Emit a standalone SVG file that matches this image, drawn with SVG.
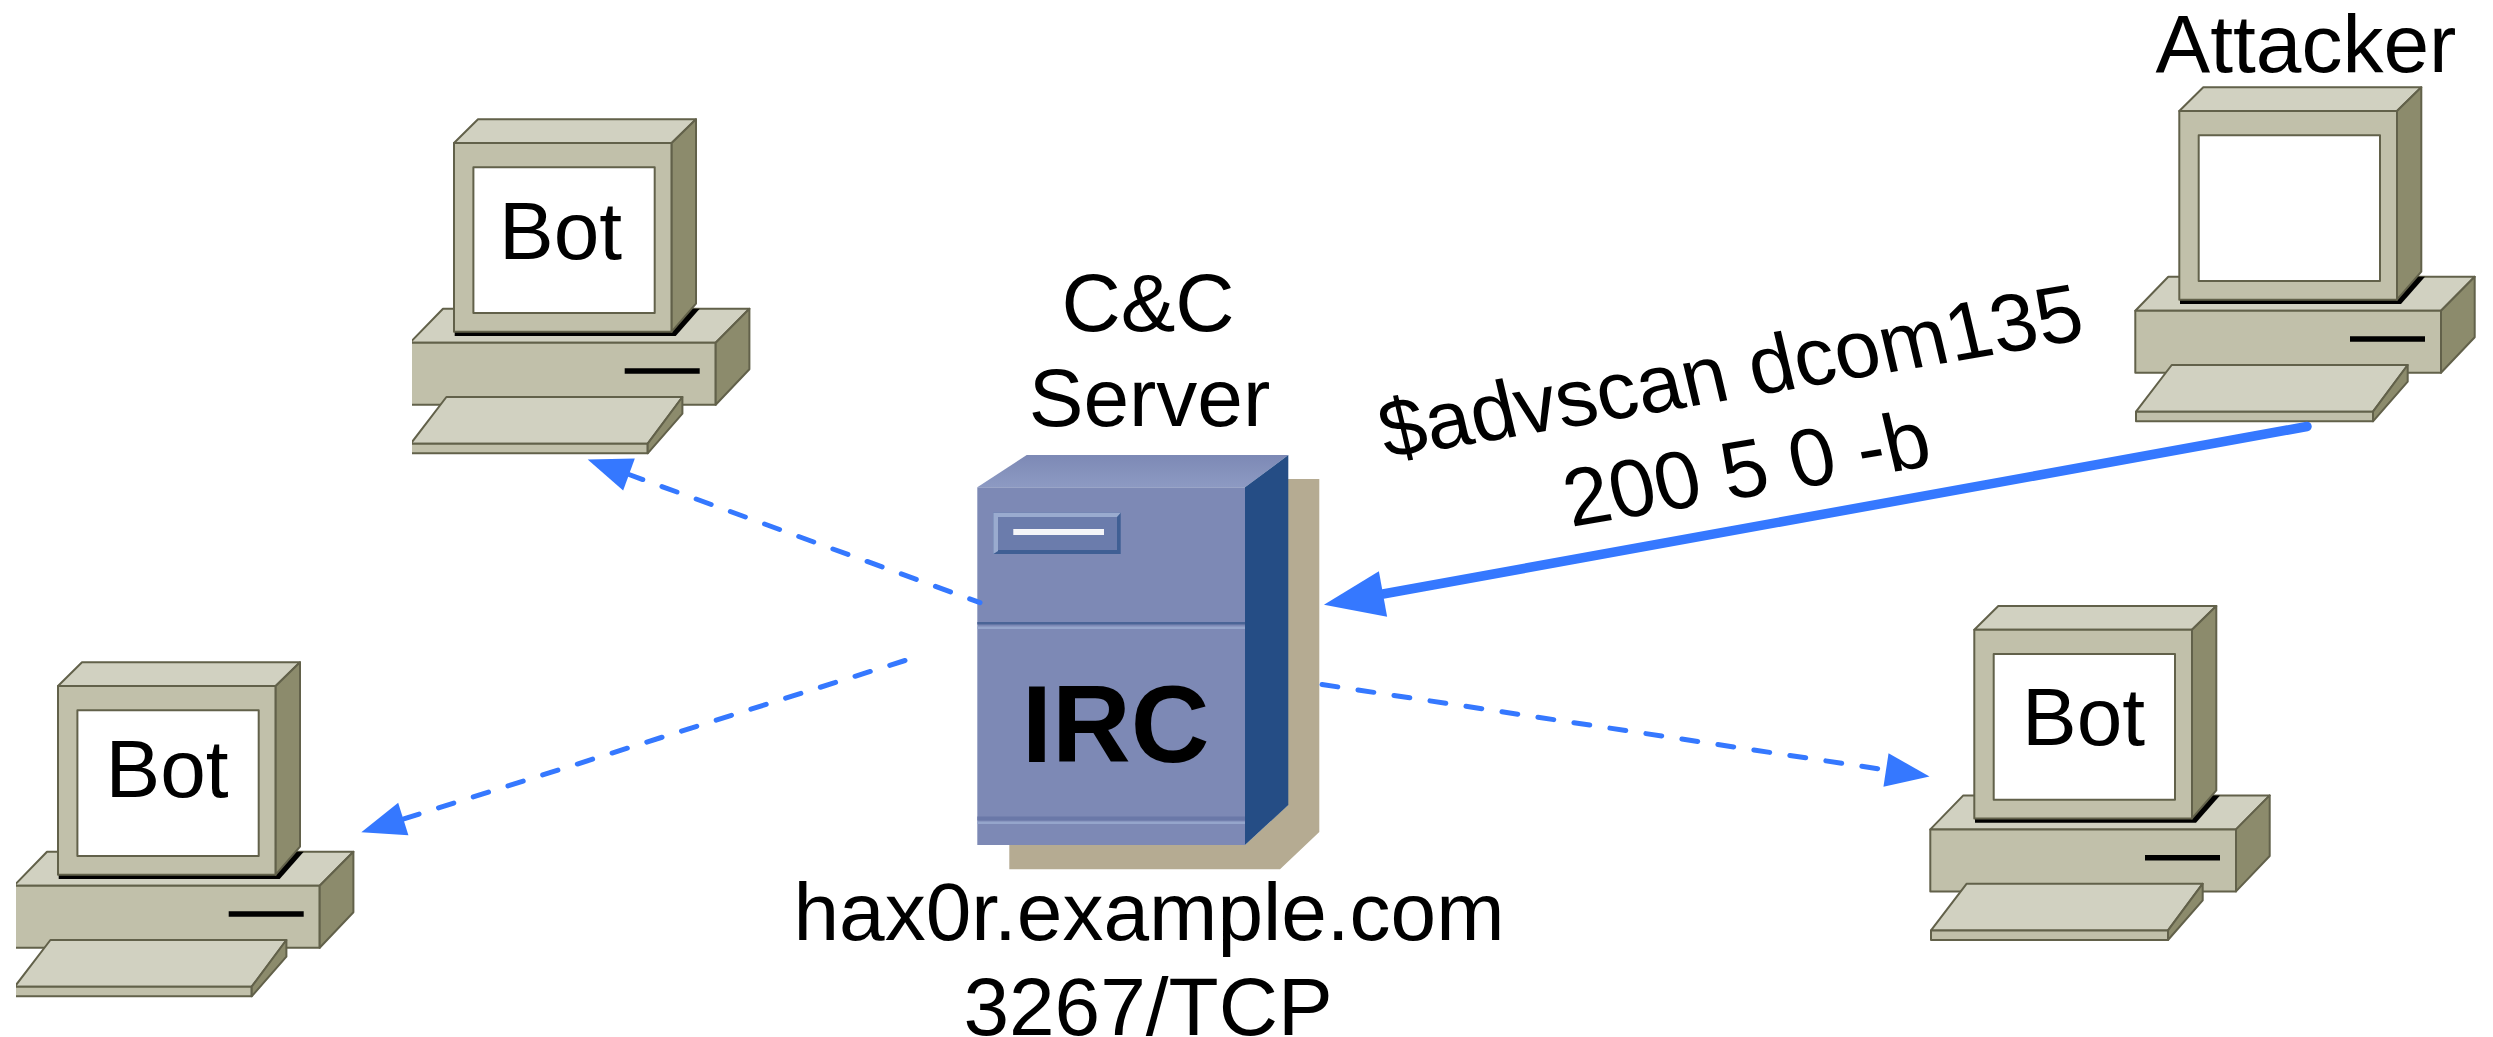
<svg xmlns="http://www.w3.org/2000/svg" width="2493" height="1037" viewBox="0 0 2493 1037">
<style>
text{font-family:"Liberation Sans",Arial,sans-serif;font-size:82px;fill:#000;text-anchor:middle}
.bold{font-weight:bold;font-size:109px}
.e{stroke:#62614a;stroke-width:2;stroke-linejoin:round}
.t{fill:#d1d1c1}.f{fill:#c1c0aa}.s{fill:#8c8b6c}
.c{fill:none;stroke:#3578ff;stroke-linecap:round}
.d{stroke-width:5;stroke-dasharray:16 20.4;marker-end:url(#a)}
</style>
<defs>
<marker id="a" markerUnits="userSpaceOnUse" markerWidth="46" markerHeight="36" refX="0" refY="17" orient="auto" overflow="visible"><path d="M0 0L44 17L0 34Z" fill="#3578ff"/></marker>
<marker id="b" markerUnits="userSpaceOnUse" markerWidth="62" markerHeight="48" refX="0" refY="23" orient="auto" overflow="visible"><path d="M0 0L60 23L0 46Z" fill="#3578ff"/></marker>
<linearGradient id="g" x1="0" y1="0" x2="0" y2="1"><stop offset="0" stop-color="#7d89b5"/><stop offset="1" stop-color="#8d9ac3"/></linearGradient>
<clipPath id="c1"><rect x="412" y="100" width="360" height="380"/></clipPath>
<clipPath id="c2"><rect x="16" y="640" width="360" height="397"/></clipPath>
<g id="pc">
<path class="e t" d="M33 189.4H339.4L305.7 223.4H0Z"/>
<path class="e f" d="M0 223.4H305.7V285.4H0Z"/>
<path class="e s" d="M305.7 223.4L339.4 189.4V250L305.7 285.4Z"/>
<path d="M214.7 249H289.7V254.4H214.7Z" fill="#000"/>
<path d="M44.7 212.7V216.7H265.7L289.7 189.4H280Z" fill="#000"/>
<path class="e t" d="M44 23.7L68 0H286L261.7 23.7Z"/>
<path class="e f" d="M44 23.7H261.7V212.4H44Z"/>
<path class="e s" d="M261.7 23.7L286 0V184.4L261.7 212.4Z"/>
<path class="e" fill="#fff" d="M63.4 48H244.7V193.7H63.4Z"/>
<path class="e t" d="M36.4 277.7H272.4L237.7 324.4H.7Z"/>
<path class="e f" d="M.7 324.4H237.7V334H.7Z"/>
<path class="e s" d="M237.7 324.4L272.4 277.7V294.4L237.7 334Z"/>
</g>
</defs>
<rect width="2493" height="1037" fill="#fff"/>
<g id="bot-top" clip-path="url(#c1)"><use href="#pc" x="410" y="119.3"/><text x="560.5" y="259.3">Bot</text></g>
<g id="bot-left" clip-path="url(#c2)"><use href="#pc" x="14" y="662.3"/><text x="167" y="797.3">Bot</text></g>
<g id="bot-right"><use href="#pc" x="1930.3" y="606"/><text x="2083.5" y="745.3">Bot</text></g>
<g id="attacker"><use href="#pc" x="2135.3" y="87.3"/><text x="2306" y="72">Attacker</text></g>
<g id="server">
<path d="M1288 479H1319.3V832L1280 869.3H1009.3V845H1245L1288 805Z" fill="#b5ab92"/>
<path d="M977.3 487.3L1026.7 455H1288.3L1245 487.3Z" fill="url(#g)"/>
<rect x="977.3" y="487.3" width="267.7" height="357.7" fill="#7d89b5"/>
<path d="M1245 487.3L1288.3 455V805L1245 845Z" fill="#254d85"/>
<rect x="977.3" y="622" width="267.7" height="2.5" fill="#4a6496"/>
<rect x="977.3" y="626.5" width="267.7" height="2.5" fill="#95a5cb"/>
<rect x="977.3" y="816.5" width="267.7" height="4" fill="#6a78a8"/>
<rect x="977.3" y="821.5" width="267.7" height="2.5" fill="#95a5cb"/>
<rect x="993.3" y="512.7" width="127.4" height="41.3" fill="#3f5f94"/>
<path d="M993.3 512.7H1120.7L1117 517H998V551L993.3 554Z" fill="#9aabcf"/>
<rect x="998" y="517" width="119" height="33" fill="#6b7cac"/>
<rect x="1013.3" y="529" width="90.7" height="6" fill="#f4f5f8"/>
<text class="bold" x="1115.5" y="761.7">IRC</text>
</g>
<g id="labels">
<text x="1148" y="330.7">C&amp;C</text>
<text x="1149.5" y="426">Server</text>
<text x="1149" y="940">hax0r.example.com</text>
<text x="1148" y="1035.3">3267/TCP</text>
<text transform="translate(1737 398.5) rotate(-9.7) skewX(3.5)">$advscan dcom135</text>
<text transform="translate(1753 496) rotate(-9.7) skewX(3.5)">200 5 0 -b</text>
</g>
<g id="connectors">
<path class="c" style="stroke-width:9.5;marker-end:url(#b)" d="M2307 426.5L1383 594"/>
<path class="c d" stroke-dashoffset="5" d="M980 602.7L629 474.5"/>
<path class="c d" d="M905 660.5L403.3 819"/>
<path class="c d" d="M1322 684.5L1886 770"/>
</g>
</svg>
